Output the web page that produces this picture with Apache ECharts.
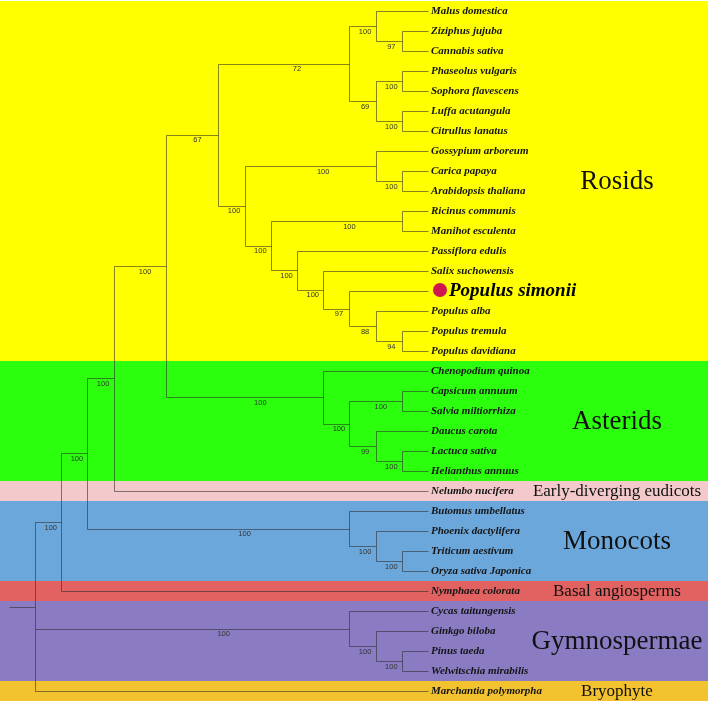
<!DOCTYPE html>
<html><head><meta charset="utf-8">
<script src="https://cdn.jsdelivr.net/npm/echarts@6/dist/echarts.min.js"></script>
<style>html,body{margin:0;padding:0;background:#fff}#c{width:708px;height:704px}</style>
</head><body><div id="c"></div>
<script>
// ---------------- DATA ----------------
const leafNames = [
  'Malus domestica','Ziziphus jujuba','Cannabis sativa','Phaseolus vulgaris','Sophora flavescens',
  'Luffa acutangula','Citrullus lanatus','Gossypium arboreum','Carica papaya','Arabidopsis thaliana',
  'Ricinus communis','Manihot esculenta','Passiflora edulis','Salix suchowensis','Populus simonii',
  'Populus alba','Populus tremula','Populus davidiana','Chenopodium quinoa','Capsicum annuum',
  'Salvia miltiorrhiza','Daucus carota','Lactuca sativa','Helianthus annuus','Nelumbo nucifera',
  'Butomus umbellatus','Phoenix dactylifera','Triticum aestivum','Oryza sativa Japonica','Nymphaea colorata',
  'Cycas taitungensis','Ginkgo biloba','Pinus taeda','Welwitschia mirabilis','Marchantia polymorpha'
];
const leafParent = [
  'MZC','ZC','ZC','PS','PS','LC','LC','goss','CA','CA',
  'RM','RM','pass','salix','sim','alba','TD','TD','asterids','CS',
  'CS','DLH','LH','LH','eudicots','mono','PTO','TO','TO','angio',
  'gymno','GPW','PW','PW','root'
];
const nodeNames   = ['root','angio','euMono','eudicots','core','rosids','upper','MZC','ZC','PSLC','PS','LC','GM','goss','CA','malp','RM','pass','salix','sim','alba','TD','asterids','CSDLH','CS','DLH','LH','mono','PTO','TO','gymno','GPW','PW'];
const nodeParent  = [null,'root','angio','euMono','eudicots','core','rosids','upper','MZC','upper','PSLC','PSLC','rosids','GM','goss','GM','malp','malp','pass','salix','sim','alba','core','asterids','CSDLH','CSDLH','DLH','euMono','mono','PTO','root','gymno','GPW'];
const nodeDepth   = [0,1,2,3,5,7,12,13,14,13,14,14,8,13,14,9,14,10,11,12,13,14,11,12,14,13,14,12,13,14,12,13,14];
const nodeSupport = [null,100,100,100,100,67,72,100,97,69,100,100,100,100,100,100,100,100,100,97,88,94,100,100,100,99,100,100,100,100,100,100,100];
const leafDepth = 15;
const rootStubDepth = -1;
const highlightLeaf = 'Populus simonii';

const groupNames = ['Rosids','Asterids','Early-diverging eudicots','Monocots','Basal angiosperms','Gymnospermae','Bryophyte'];
const groupFirstLeaf = [0,18,24,25,29,30,34];
const groupLastLeaf  = [17,23,24,28,29,33,34];

// ---------------- STYLE ----------------
const groupColors = ['#FFFF00','#2CFF0E','#F4C9CB','#6CA7DC','#E26262','#8A7BC3','#F3C22F'];
const groupFontSize = [27,27,17,27,17,27,17];
const W = 708, H = 704;
const X0 = 35, XSTEP = 26.2;   // px of depth 0 and px per depth unit
const Y0 = 11, YSTEP = 20;     // px of leaf 0 and px per leaf
const branchColor = 'rgba(45,45,45,0.58)';
const groupLabelX = 617;

// ---------------- TREE LAYOUT (from data) ----------------
const nodeIndex = {};
nodeNames.forEach((n,i)=>nodeIndex[n]=i);
const children = nodeNames.map(()=>[]);
leafNames.forEach((n,i)=>children[nodeIndex[leafParent[i]]].push({leaf:true, i}));
nodeNames.forEach((n,i)=>{ if(nodeParent[i]) children[nodeIndex[nodeParent[i]]].push({leaf:false, i}); });
const nodeY = new Array(nodeNames.length);
function yOf(c){ return c.leaf ? c.i : computeY(c.i); }
function computeY(i){
  if(nodeY[i]!==undefined) return nodeY[i];
  const ys = children[i].map(yOf);
  nodeY[i] = (Math.min(...ys)+Math.max(...ys))/2;
  return nodeY[i];
}
nodeNames.forEach((n,i)=>computeY(i));

const segments = [];
leafNames.forEach((n,i)=>{
  const p = nodeIndex[leafParent[i]];
  segments.push([nodeDepth[p], i, leafDepth, i]);
});
nodeNames.forEach((n,i)=>{
  const ys = children[i].map(c=> c.leaf ? c.i : nodeY[c.i]);
  segments.push([nodeDepth[i], Math.min(...ys), nodeDepth[i], Math.max(...ys)]);
  if(nodeParent[i]){
    const p = nodeIndex[nodeParent[i]];
    segments.push([nodeDepth[p], nodeY[i], nodeDepth[i], nodeY[i]]);
  }
});
segments.push([rootStubDepth, nodeY[0], 0, nodeY[0]]);

const supportData = [];
nodeNames.forEach((n,i)=>{
  if(nodeParent[i] && nodeSupport[i]!=null){
    supportData.push([nodeDepth[nodeIndex[nodeParent[i]]], nodeY[i], nodeDepth[i], nodeSupport[i]]);
  }
});
const leafData = leafNames.map((n,i)=>[leafDepth, i]);

const yMin = -Y0/YSTEP, yMax = (H-Y0)/YSTEP;
const bandData = groupNames.map((g,k)=>[
  Math.max(yMin, groupFirstLeaf[k]-0.5), Math.min(yMax, groupLastLeaf[k]+0.5), k
]);

const crisp = v => Math.round(v)+0.5;

const chart = echarts.init(document.getElementById('c'), null, {renderer:'canvas'});
chart.setOption({
  animation:false,
  grid:{left:0,right:0,top:0,bottom:0},
  xAxis:{type:'value', min:-X0/XSTEP, max:(W-X0)/XSTEP, show:false},
  yAxis:{type:'value', min:yMin, max:yMax, inverse:true, show:false},
  series:[
    { type:'custom', data:bandData, z:1, silent:true,
      renderItem:(params, api)=>{
        const k = api.value(2);
        const a = api.coord([0, api.value(0)]);
        const b = api.coord([0, api.value(1)]);
        const cy = (a[1]+b[1])/2;
        return {type:'group', children:[
          {type:'rect', shape:{x:0, y:Math.round(a[1]), width:W, height:Math.round(b[1])-Math.round(a[1])},
           style:{fill:groupColors[k]}},
          {type:'text', x:groupLabelX, y:cy+1, style:{text:groupNames[k], fill:'#111',
            font:'normal '+groupFontSize[k]+'px "Liberation Serif", "Times New Roman", serif',
            align:'center', verticalAlign:'middle'}}
        ]};
      }
    },
    { type:'custom', data:segments, z:2, silent:true,
      renderItem:(params, api)=>{
        const p1 = api.coord([api.value(0), api.value(1)]);
        const p2 = api.coord([api.value(2), api.value(3)]);
        return {type:'line', shape:{x1:crisp(p1[0]), y1:crisp(p1[1]), x2:crisp(p2[0]), y2:crisp(p2[1])},
          style:{stroke:branchColor, lineWidth:1}};
      }
    },
    { type:'custom', data:supportData, z:3, silent:true,
      renderItem:(params, api)=>{
        const p1 = api.coord([api.value(0), api.value(1)]);
        const p2 = api.coord([api.value(2), api.value(1)]);
        const x = p1[0] + 0.6*(p2[0]-p1[0]);
        return {type:'text', x:x, y:p1[1]+5.5, style:{text:String(api.value(3)), fill:'#333',
          font:'7.5px "Liberation Sans", Arial, sans-serif', align:'center', verticalAlign:'middle'}};
      }
    },
    { type:'custom', data:leafData, z:4, silent:true,
      renderItem:(params, api)=>{
        const name = leafNames[params.dataIndex];
        const p = api.coord([api.value(0), api.value(1)]);
        if(name === highlightLeaf){
          return {type:'group', children:[
            {type:'circle', shape:{cx:p[0]+12, cy:p[1]-1, r:7}, style:{fill:'#D0174F'}},
            {type:'text', x:p[0]+21, y:p[1], style:{text:name, fill:'#000',
              font:'italic bold 19px "Liberation Serif", "Times New Roman", serif', align:'left', verticalAlign:'middle'}}
          ]};
        }
        return {type:'text', x:p[0]+3, y:p[1]+0.5, style:{text:name, fill:'#141414',
          font:'italic bold 11px "Liberation Serif", "Times New Roman", serif', align:'left', verticalAlign:'middle'}};
      }
    }
  ]
});
</script></body></html>
